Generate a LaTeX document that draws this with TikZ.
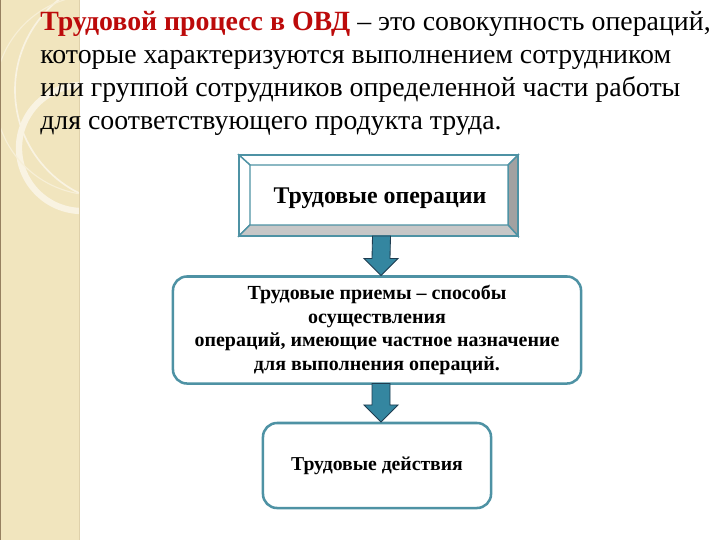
\documentclass[tikz,border=0pt]{standalone}
\usepackage{fontspec}
\setmainfont{Liberation Serif}
\usetikzlibrary{calc}

\definecolor{boxteal}{RGB}{78,146,164}
\definecolor{arrowteal}{RGB}{52,134,160}
\definecolor{arrowline}{RGB}{30,60,80}
\definecolor{titlered}{RGB}{188,10,10}
\definecolor{stripbeige}{RGB}{241,229,190}
\definecolor{stripedge}{RGB}{150,128,96}
\definecolor{ringcream}{RGB}{249,243,226}

\newcommand{\blockarrow}[2]{%
  \draw[block arrow] ($(#1)+(-9,0)$) -- ($(#1)+(9,0)$) -- ($(#2)+(9,-17)$)
    -- ($(#2)+(17,-17)$) -- (#2) -- ($(#2)+(-17,-17)$) -- ($(#2)+(-9,-17)$) -- cycle;}

\begin{document}
\begin{tikzpicture}[
  x=0.025cm, y=-0.025cm,
  title text/.style={
    anchor=north west,
    inner sep=0pt,
    align=left,
    font=\fontsize{19.8}{23.5}\selectfont
  },
  bevel box/.style={
    rectangle,
    fill=white,
    draw=boxteal,
    line width=1.2pt,
    minimum height=2.025cm, minimum width=6.975cm,
    outer sep=0pt
  },
  round box/.style={
    rectangle,
    rounded corners=10pt,
    fill=white,
    draw=boxteal,
    line width=1.8pt,
    outer sep=0pt,
    align=center,
    font=\fontsize{14.2}{16.8}\selectfont\bfseries
  },
  block arrow/.style={
    fill=arrowteal,
    draw=arrowline,
    line width=0.6pt,
    line join=miter
  },
  bevel light/.style={fill=white, draw=boxteal, line width=1pt},
  bevel dark/.style={fill=black!37, draw=boxteal, line width=1pt},
  bevel mid/.style={fill=black!22, draw=boxteal, line width=1pt}
  ]
\useasboundingbox (0,0) rectangle (720,540);
% Side strip
\fill[stripbeige] (0,0) rectangle (80,540);
\begin{scope}
  \clip (0,0) rectangle (79,540);
  \draw[ringcream, line width=1.2pt] (130,90) circle (115);
  \draw[ringcream, line width=4.5pt] (82,148) circle (63);
  \draw[ringcream!70!stripbeige, line width=0.8pt] (95,95) circle (100);
\end{scope}
\draw[stripedge, line width=1pt] (0.6,0) -- (0.6,540);
\draw[stripbeige!80!stripedge, line width=0.8pt] (79.5,0) -- (79.5,540);
% Title
\node[title text] (title) at (40,11)
  {\textcolor{titlered}{\textbf{Трудовой процесс в ОВД}} – это совокупность операций,\\
   которые характеризуются выполнением сотрудником\\
   или группой сотрудников определенной части работы\\
   для соответствующего продукта труда.};
% Labour operations
\node[bevel box] (operations) at (378.5,195.5) {};
\coordinate (ops inner nw) at ($(operations.north west)+(11,10)$);
\coordinate (ops inner ne) at ($(operations.north east)+(-10,10)$);
\coordinate (ops inner se) at ($(operations.south east)+(-10,-11)$);
\coordinate (ops inner sw) at ($(operations.south west)+(11,-11)$);
\draw[bevel light] (operations.north west) -- (operations.north east) -- (ops inner ne) -- (ops inner nw) -- cycle;
\draw[bevel light] (operations.north west) -- (ops inner nw) -- (ops inner sw) -- (operations.south west) -- cycle;
\draw[bevel dark] (operations.north east) -- (operations.south east) -- (ops inner se) -- (ops inner ne) -- cycle;
\draw[bevel mid] (operations.south west) -- (ops inner sw) -- (ops inner se) -- (operations.south east) -- cycle;
\draw[boxteal, line width=1.2pt] (operations.north west) rectangle (operations.south east);
\node[font=\fontsize{17}{20}\selectfont\bfseries] (operations text) at ($(ops inner nw)!0.5!(ops inner se)+(1,3)$) {Трудовые операции};
% Labour methods
\node[round box, minimum width=10.2cm, minimum height=2.675cm] (methods) at (377,330)
  {Трудовые приемы – способы\\ осуществления\\ операций, имеющие частное назначение\\ для выполнения операций.};
% Labour actions
\node[round box, minimum width=5.7cm, minimum height=2.125cm, font=\fontsize{14}{16.8}\selectfont\bfseries] (actions) at (377,465.5) {Трудовые действия};
% Arrows
\blockarrow{$(operations.south)+(3,0)$}{$(methods.north)+(4,-1)$}
\blockarrow{$(methods.south)+(4,0)$}{$(actions.north)+(4,-1)$}
\end{tikzpicture}
\end{document}
